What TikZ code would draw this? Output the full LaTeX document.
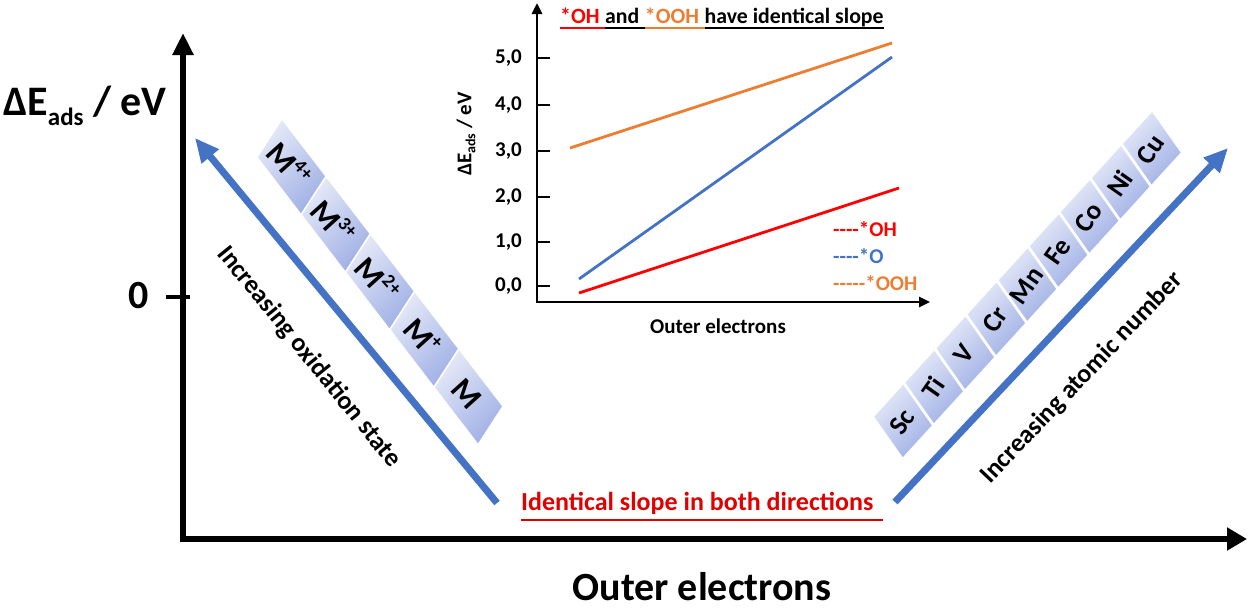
\documentclass[tikz,border=0pt]{standalone}
\usepackage{fontspec}
\setmainfont{Carlito}
\usetikzlibrary{arrows.meta}
\definecolor{ablue}{HTML}{4472C4}
\definecolor{aorange}{HTML}{ED7D31}
\definecolor{ared}{HTML}{FF0000}
\definecolor{tred}{HTML}{E00000}
\definecolor{boxlight}{HTML}{E4E8F7}
\definecolor{boxdark}{HTML}{A2B2E6}
\newcommand\FSz[1]{\fontsize{#1}{#1}\selectfont}
\newcommand\Sup[1]{\raisebox{0.4em}{\FSz{19}#1}}
\tikzset{
  lbl/.style={font=\bfseries\FSz{21}, inner sep=0pt},
  ttl/.style={font=\bfseries\FSz{21.8}, inner sep=0pt, anchor=base west},
  bigaxis/.style={line width=6pt, line join=miter},
  inaxis/.style={line width=2.6pt},
  trend/.style={line width=2.8pt},
  bluearrow/.style={ablue, line width=7pt, -{Triangle[length=24pt,width=21pt]}},
  elbox/.style={top color=boxlight, bottom color=boxdark, shading angle=45},
}
\begin{document}
\begin{tikzpicture}[x=1pt,y=-1pt]
\useasboundingbox (0,0) rectangle (1250,608);

% ---- main axes
\coordinate (Ytop) at (183,33);
\coordinate (Orig) at (183,539);
\coordinate (Xend) at (1247,539);
\draw[bigaxis, {Triangle[length=22pt,width=20pt]}-{Triangle[length=20pt,width=22pt]}] (Ytop) -- (Orig) -- (Xend);
\coordinate (T0a) at (166,297);
\coordinate (T0b) at (190,297);
\draw[line width=4pt] (T0a) -- (T0b);
\node[font=\bfseries\FSz{40}, inner sep=0pt] (zero) at (139,296) {0};
\node[font=\bfseries\FSz{42}, inner sep=0pt, anchor=base west] (ylab) at (3,115) {ΔE\raisebox{-10pt}{\FSz{25}ads} / eV};
\node[font=\bfseries\FSz{40}, inner sep=0pt, anchor=base] (xlab) at (702,600) {Outer electrons};

% ---- blue arrows
\coordinate (LA0) at (497,503);
\coordinate (LA1) at (195,138);
\coordinate (RA0) at (895,502);
\coordinate (RA1) at (1228,148);
\draw[bluearrow] (LA0) -- (LA1);
\draw[bluearrow] (RA0) -- (RA1);
\node[font=\bfseries\FSz{26}, rotate=-51, inner sep=0pt] (oxtxt) at (309,357) {Increasing oxidation state};
\node[font=\bfseries\FSz{26}, rotate=46.5, inner sep=0pt] (attxt) at (1082,378) {Increasing atomic number};

% ---- left boxes
\foreach \i/\t in {0/{M\Sup{4+}},1/{M\Sup{3+}},2/{M\Sup{2+}},3/{M\Sup{+}},4/M}{
  \begin{scope}[shift={({291.5+44.25*\i},{166.75+57.5*\i})}]
    \shade[elbox] (-33.5,-9.5) -- (-9.5,-46.5) -- (33.5,9.5) -- (9.5,46.5) -- cycle;
    \node[font=\bfseries\FSz{32}, rotate=-48, inner sep=0pt] (Lbox\i) at (-2,-3) {\t};
  \end{scope}
}

% ---- right boxes
\foreach \j/\t in {0/Sc,1/Ti,2/V,3/Cr,4/Mn,5/Fe,6/Co,7/Ni,8/Cu}{
  \begin{scope}[shift={({903+31.1*\j},{421-34.1*\j})}]
    \shade[elbox] (-28.75,-4.35) -- (0.25,-36.15) -- (28.75,4.35) -- (-0.25,36.15) -- cycle;
    \node[font=\bfseries\FSz{27}, rotate=55, inner sep=0pt] (Rbox\j) at (-1,1) {\t};
  \end{scope}
}

% ---- bottom statement
\node[font=\bfseries\FSz{26}, text=tred, inner sep=0pt, anchor=base west] (slope) at (521,510) {Identical slope in both directions};
\coordinate (ulA) at (521,520);
\coordinate (ulB) at (883,520);
\draw[tred, line width=2pt] (ulA) -- (ulB);

% ---- inset plot
\coordinate (iYtop) at (537,3);
\coordinate (iO) at (537,302);
\coordinate (iXend) at (930,302);
\draw[inaxis, line join=miter, {Triangle[length=11pt,width=10pt]}-{Triangle[length=11pt,width=10pt]}] (iYtop) -- (iO) -- (iXend);
\foreach \v/\y in {0/286,1/242,2/197,3/151,4/105,5/58}{
  \draw[inaxis] (537,\y) -- (550,\y);
  \node[lbl, anchor=east] (tick\v) at (522,\y) {\v,0};
}
\node[lbl, rotate=90] (iylab) at (466,134) {ΔE\raisebox{-4pt}{\FSz{14}ads} / eV};
\node[lbl] (ixlab) at (718,326) {Outer electrons};

\coordinate (oo1) at (570,148); \coordinate (oo2) at (892,43);
\coordinate (bo1) at (579,279); \coordinate (bo2) at (892,57);
\coordinate (ro1) at (579,293); \coordinate (ro2) at (899,188);
\draw[trend, aorange] (oo1) -- (oo2);
\draw[trend, ablue] (bo1) -- (bo2);
\draw[trend, ared] (ro1) -- (ro2);

\node[lbl, text=ared, anchor=west] (legOH) at (833,229) {-{}-{}-{}-*OH};
\node[lbl, text=ablue, anchor=west] (legO) at (833,256) {-{}-{}-{}-*O};
\node[lbl, text=aorange, anchor=west] (legOOH) at (833,283) {-{}-{}-{}-{}-*OOH};

% ---- inset title
\node[ttl, text=ared] (ti1) at (560,23) {*OH\kern0.24em};
\node[ttl] (ti2) at (ti1.base east) {and\kern0.24em};
\node[ttl, text=aorange] (ti3) at (ti2.base east) {*OOH\kern0.24em};
\node[ttl] (ti4) at (ti3.base east) {have identical slope};
\draw[ared, line width=1.4pt] ([yshift=-5pt]ti1.base west) -- ([yshift=-5pt]ti1.base east);
\draw[line width=1.4pt] ([yshift=-5pt]ti2.base west) -- ([yshift=-5pt]ti2.base east);
\draw[aorange, line width=1.4pt] ([yshift=-5pt]ti3.base west) -- ([yshift=-5pt]ti3.base east);
\draw[line width=1.4pt] ([yshift=-5pt]ti4.base west) -- ([yshift=-5pt]ti4.base east);
\end{tikzpicture}
\end{document}
